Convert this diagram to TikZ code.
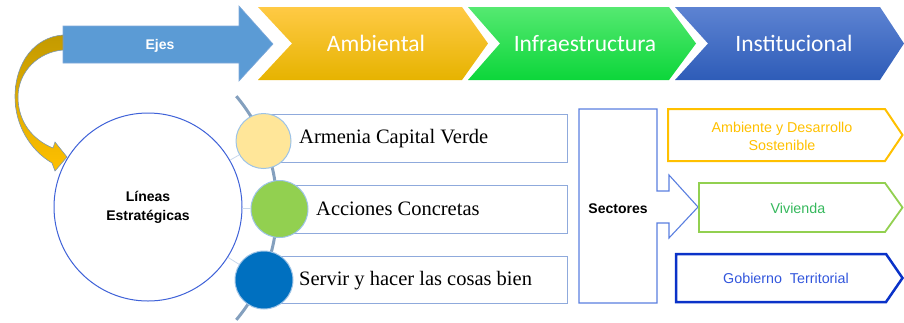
\documentclass[tikz,border=0pt]{standalone}
\usepackage{fontspec}
\setmainfont{Liberation Serif}
\newfontfamily\calfont{Carlito}
\newfontfamily\arfont{Liberation Sans}
\definecolor{ejesblue}{HTML}{5B9BD5}
\definecolor{ejesline}{HTML}{7FA9D9}
\definecolor{goldA}{HTML}{C39A00}
\definecolor{goldB}{HTML}{FFC000}
\definecolor{goldline}{HTML}{7D97B0}
\definecolor{ambT}{HTML}{FFCA45}
\definecolor{ambM}{HTML}{FFC200}
\definecolor{ambB}{HTML}{E6B300}
\definecolor{infT}{HTML}{55E971}
\definecolor{infM}{HTML}{27DE48}
\definecolor{infB}{HTML}{0CD63A}
\definecolor{insT}{HTML}{5D83D2}
\definecolor{insM}{HTML}{4270C8}
\definecolor{insB}{HTML}{2E5CB8}
\definecolor{circline}{HTML}{3F62D8}
\definecolor{arcline}{HTML}{84A0BE}
\definecolor{spoke}{HTML}{C9D8EC}
\definecolor{boxline}{HTML}{8FAADC}
\definecolor{smallline}{HTML}{9DC3E6}
\definecolor{cyellow}{HTML}{FFE699}
\definecolor{cgreen}{HTML}{92D050}
\definecolor{cblue}{HTML}{0070C0}
\definecolor{secline}{HTML}{5A7FE0}
\definecolor{ambtxt}{HTML}{FFC000}
\definecolor{vivline}{HTML}{92D050}
\definecolor{vivtxt}{HTML}{35B85C}
\definecolor{gobline}{HTML}{0A32C8}
\definecolor{gobtxt}{HTML}{3256DC}
\tikzset{
  chevtext/.style={font=\calfont\fontsize{23.5}{26}\selectfont, text=white, anchor=base, inner sep=0pt},
  arialbold/.style={font=\arfont\bfseries\fontsize{14}{19}\selectfont, inner sep=0pt},
  boxtext/.style={font=\fontsize{20.5}{24}\selectfont, anchor=base west, inner sep=0pt},
  lbox/.style={draw=boxline, line width=0.9pt, fill=white},
  smallcirc/.style={circle, draw=smallline, line width=1pt, inner sep=0pt},
  sectext/.style={font=\arfont\fontsize{14.3}{18}\selectfont, anchor=base, inner sep=0pt, align=center},
  spokeline/.style={draw=spoke, line width=0.8pt}
}
\begin{document}
\begin{tikzpicture}[x=1pt,y=-1pt]
\useasboundingbox (0,0) rectangle (904,322);

% --- Top row: Ejes arrow
\fill[ejesblue, draw=ejesline, line width=0.6pt]
  (63,26) -- (239,26) -- (239,6) -- (273,44) -- (239,81) -- (239,63) -- (63,63) -- cycle;
\node[arialbold, text=white, anchor=base] (ejes) at (160,49) {Ejes};

% chevrons
\shade[top color=ambT, middle color=ambM, bottom color=ambB]
  (258,7) -- (462,7) -- (488,43.5) -- (462,80) -- (258,80) -- (292,43.5) -- cycle;
\node[chevtext] (amb) at (376,51) {Ambiental};
\shade[top color=infT, middle color=infM, bottom color=infB]
  (468,7) -- (669,7) -- (696,43.5) -- (669,80) -- (468,80) -- (500,43.5) -- cycle;
\node[chevtext] (inf) at (585,51) {Infraestructura};
\shade[top color=insT, middle color=insM, bottom color=insB]
  (675,7) -- (880,7) -- (904,43.5) -- (880,80) -- (675,80) -- (708,43.5) -- cycle;
\node[chevtext] (ins) at (794,51) {Institucional};

% curved gold arrow
\shade[top color=goldA, bottom color=goldB, draw=goldline, line width=0.6pt]
  (63,35) .. controls (35,37) and (15,62) .. (15,97)
  .. controls (15,125) and (30,150) .. (52,163)
  -- (55,171) -- (67,157) -- (55,142) -- (53,148)
  .. controls (33,140) and (18,122) .. (18,97)
  .. controls (18,72) and (38,52) .. (63,50) -- cycle;

% --- Middle: arc
\draw[arcline, line width=3pt] plot[domain=-40:40, samples=60] ({103+174*cos(\x)},{208+174*sin(\x)});

% main circle
\node[circle, draw=circline, line width=1pt, fill=white, minimum size=188pt, inner sep=0pt,
      font=\arfont\bfseries\fontsize{14}{19}\selectfont, align=center] (lin) at (148,207) {Líneas\\Estratégicas};

% text boxes
\path[lbox] (264,114) rectangle (567,162);
\path[lbox] (280,185) rectangle (567,233);
\path[lbox] (264,256) rectangle (567,303);
\node[boxtext] (t1) at (299,143) {Armenia Capital Verde};
\node[boxtext] (t2) at (316,215) {Acciones Concretas};
\node[boxtext] (t3) at (299,285) {Servir y hacer las cosas bien};

% small circles
\node[smallcirc, fill=cyellow, minimum size=55pt] (c1) at (263.5,141) {};
\node[smallcirc, fill=cgreen, minimum size=57pt] (c2) at (279.5,209) {};
\node[smallcirc, fill=cblue, minimum size=58pt] (c3) at (264,280) {};

% spokes
\draw[spokeline] (lin) -- (c1);
\draw[spokeline] (lin) -- (c2);
\draw[spokeline] (lin) -- (c3);

% --- Right: Sectores
\draw[secline, line width=1.1pt, fill=white]
  (579,109) -- (657,109) -- (657,191) -- (669,191) -- (669,175) -- (698,207) -- (669,238)
  -- (669,223) -- (657,223) -- (657,303) -- (579,303) -- cycle;
\node[arialbold, anchor=base] (sec) at (618,213) {Sectores};

\draw[ambtxt, line width=2pt] (668,109) -- (885,109) -- (902.5,135) -- (885,161) -- (668,161) -- cycle;
\node[sectext, text=ambtxt, anchor=center] (s1) at (782,136) {Ambiente y Desarrollo\\Sostenible};
\draw[vivline, line width=1.8pt] (699,183) -- (885,183) -- (902.5,207.5) -- (885,232) -- (699,232) -- cycle;
\node[sectext, text=vivtxt] (s2) at (798,213) {Vivienda};
\draw[gobline, line width=2.5pt] (676,254) -- (886,254) -- (902.5,278) -- (886,302) -- (676,302) -- cycle;
\node[sectext, text=gobtxt] (s3) at (786,283) {Gobierno\ \ Territorial};
\end{tikzpicture}
\end{document}
